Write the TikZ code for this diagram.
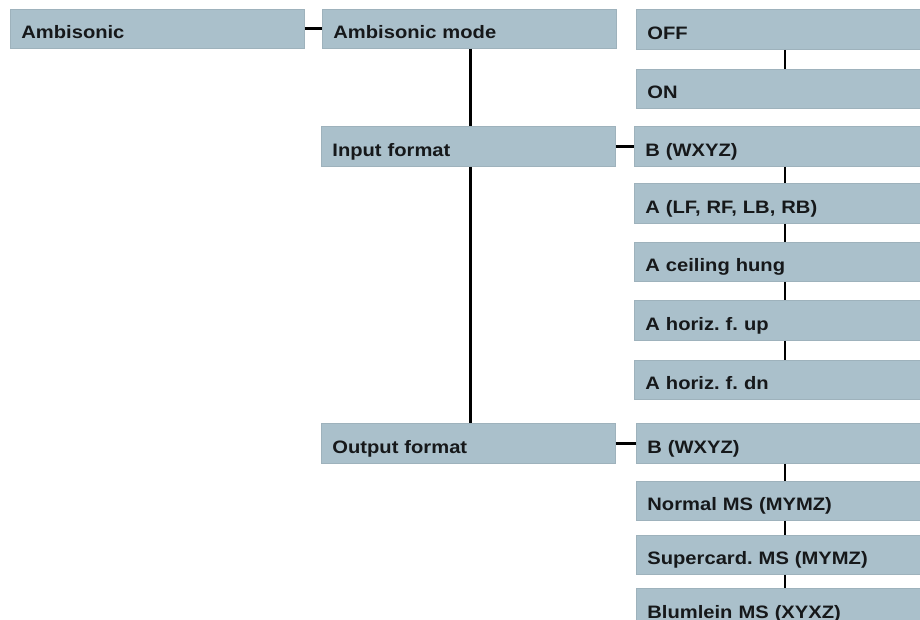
\documentclass[tikz,border=0pt]{standalone}
\usepackage{fontspec}
\setmainfont{Liberation Sans}[FakeStretch=1.12]
\frenchspacing
\definecolor{menufill}{RGB}{170,192,203}
\definecolor{menuedge}{RGB}{158,178,188}
\definecolor{menutext}{RGB}{22,24,26}
\tikzset{
  menubox/.style={draw=menuedge, line width=0.8pt, fill=menufill, rectangle,
    anchor=north west, inner xsep=11pt, inner ysep=0pt,
    minimum height=#1, text width=272pt, align=left,
    text height=20pt, text depth=0pt, text=menutext,
    font=\fontsize{18}{20}\selectfont\bfseries},
  menubox/.default=40pt,
  widebox/.style={menubox=#1, text width=290pt},
  widebox/.default=40pt,
  link/.style={draw=black, line width=3pt},
  sublink/.style={draw=black, line width=2.8pt}
}
\begin{document}
\begin{tikzpicture}[x=1pt, y=-1pt]
\useasboundingbox (0,0) rectangle (920,619);
\clip (0,0) rectangle (920,619);
\fill[white] (0,0) rectangle (920,619);

% first column
\node[menubox=39pt] (amb) at (10,9) {Ambisonic};

% second column
\node[menubox=39pt] (mode) at (322,9) {Ambisonic mode};
\node[menubox] (inp) at (321,126) {Input format};
\node[menubox] (outp) at (321,423) {Output format};

% third column
\node[widebox] (off)  at (636,9)   {OFF};
\node[widebox=39pt] (on)   at (636,69)  {ON};
\node[widebox] (ib)   at (634,126) {B (WXYZ)};
\node[widebox] (ia)   at (634,183) {A (LF, RF, LB, RB)};
\node[widebox=39pt] (ic)   at (634,242) {A ceiling hung};
\node[widebox] (iu)   at (634,300) {A horiz. f. up};
\node[widebox=39pt] (id)   at (634,360) {A horiz. f. dn};
\node[widebox] (ob)   at (636,423) {B (WXYZ)};
\node[widebox=39pt] (on2)  at (636,481) {Normal MS (MYMZ)};
\node[widebox=39pt] (osc)  at (636,535) {Supercard. MS (MYMZ)};
\node[widebox] (obl)  at (636,588) {Blumlein MS (XYXZ)};

% horizontal links
\draw[link] (amb.east) -- (mode.west);
\draw[link] (inp.east) -- (inp.east -| ib.west);
\draw[link] (outp.east) -- (outp.east -| ob.west);

% vertical spine of the second column
\draw[link] (470,0 |- mode.south) -- (470,0 |- inp.north);
\draw[link] (470,0 |- inp.south) -- (470,0 |- outp.north);

% vertical links of the third column
\foreach \a/\b in {off/on, ib/ia, ia/ic, ic/iu, iu/id, ob/on2, on2/osc, osc/obl}
  \draw[sublink] (785,0 |- \a.south) -- (785,0 |- \b.north);
\end{tikzpicture}
\end{document}
